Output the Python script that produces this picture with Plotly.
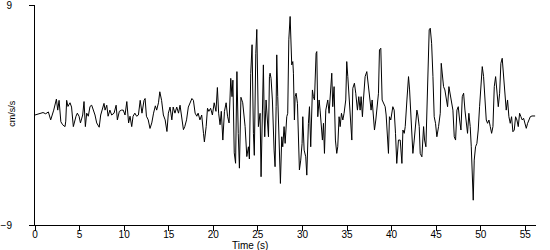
import plotly.graph_objects as go

# --- data (time in s, acceleration in cm/s/s) ---
time_a = [0, 0.3, 0.6, 0.9, 1.2, 1.5, 1.76, 1.95, 2.1, 2.4,
          2.55, 2.7, 2.9, 3.1, 3.37, 3.45, 3.55, 3.7, 3.93, 4.1,
          4.3, 4.6, 4.75, 4.94, 5.1, 5.35, 5.5, 5.65, 5.8, 5.98,
          6.17, 6.36, 6.55, 6.73, 6.92, 7.2, 7.37, 7.55, 7.74, 7.86,
          8.05, 8.2, 8.4, 8.6, 8.87, 9.1, 9.24, 9.46, 9.7, 9.9,
          10.1, 10.3, 10.5, 10.66, 10.85, 11.0, 11.2, 11.4]
accel_a = [0, 0.05, 0.1, 0.2, 0.1, 0.25, -0.4, 0.0, 0.4, 1.3,
           0.4, 1.2, -0.55, -0.8, -0.95, -0.5, 1.2, 0.7, 1.0, 0.65,
           -0.95, -0.1, 0.15, -0.1, -0.65, 0.0, 1.1, -0.95, 0.15, -0.1,
           0.7, 0.8, 0.4, 0.0, -0.65, -1.0, 0.0, 0.4, 0.95, 0.4,
           0.8, -0.1, 0.4, 0.0, 0.15, 0.8, -0.4, 0.3, 0.4, 0.4,
           0.0, 1.1, -0.65, -0.1, -0.95, -0.1, 0.15, -0.1]

time_b = [11.6, 11.8, 12.0, 12.23, 12.35, 12.5, 12.7, 12.9, 13.1, 13.3,
          13.5, 13.65, 13.85, 14.0, 14.2, 14.4, 14.6, 14.8, 14.96, 15.15,
          15.35, 15.5, 15.7, 15.9, 16.1, 16.27, 16.46, 16.65, 16.8, 17.0,
          17.2, 17.4, 17.6, 17.77, 17.96, 18.15, 18.3, 18.5, 18.7, 18.9,
          19.0, 19.2, 19.35, 19.5, 19.7, 19.9, 20.1, 20.3, 20.46, 20.6,
          20.76, 20.9, 21.07, 21.25, 21.44, 21.6, 21.77, 21.96, 22.1, 22.2,
          22.35, 22.5, 22.65, 22.8, 22.93, 23.1, 23.3, 23.57, 23.76, 23.94,
          24.05, 24.2, 24.35, 24.5, 24.6, 24.77, 24.88, 25.06]
accel_b = [0.0, 1.2, 0.15, 1.2, 1.35, -0.1, -0.4, -1.1, -0.65, 0.15,
           0.75, 0.4, 1.0, 1.9, 1.2, 0.0, -0.4, -1.35, 0.15, 0.65,
           -0.4, 0.65, 0.15, 0.65, 0.15, 0.8, -0.25, -1.2, -0.95, -0.4,
           0.65, 0.95, 1.35, 1.2, 0.15, -0.1, 0.15, -0.4, 0.0, -1.5,
           -2.2, -0.95, 0.55, 0.3, 0.55, 0.0, 1.0, 0.3, 2.25, 0.15,
           -0.8, 0.3, -2.05, 0.3, 1.0, -0.1, -0.65, 3.0, 1.5, 2.85,
           -3.1, -3.95, 3.55, -1.5, -4.35, 1.45, 1.0, -0.95, -3.4, -2.6,
           -3.6, 3.4, 5.75, -1.5, -3.3, 5.05, 7.0, -0.95]

time_c = [25.25, 25.36, 25.47, 25.62, 25.7, 25.77, 25.92, 26.07, 26.19, 26.3,
          26.37, 26.48, 26.63, 26.82, 26.93, 27.05, 27.12, 27.23, 27.42, 27.53,
          27.68, 27.79, 27.94, 28.06, 28.24, 28.35, 28.47, 28.62, 28.8, 28.92,
          28.99, 29.1, 29.18, 29.29, 29.44, 29.55, 29.66, 29.81, 29.96, 30.04,
          30.19, 30.37, 30.49, 30.67, 30.79, 30.93, 31.12, 31.23, 31.35, 31.53,
          31.61, 31.72, 31.87, 31.98, 32.13, 32.24, 32.36, 32.47, 32.62, 32.84,
          32.99, 33.1, 33.29, 33.4, 33.55, 33.7, 33.85, 33.96, 34.11, 34.23,
          34.38, 34.53, 34.67, 34.86, 34.97, 35.09, 35.27, 35.42, 35.54, 35.65,
          35.83, 35.98, 36.17, 36.32, 36.47, 36.58, 36.73, 36.84, 37.03, 37.22,
          37.41, 37.59, 37.7, 37.82, 37.97, 38.08, 38.23, 38.34, 38.53, 38.64,
          38.79, 38.94, 39.09, 39.28, 39.39, 39.54, 39.65, 39.76, 39.91, 40.14,
          40.29, 40.44, 40.58, 40.77]
accel_c = [0.14, -5.05, -0.95, 4.1, 0.4, -1.78, 1.23, -0.95, -1.78, 3.14,
           3.42, 3.0, 1.23, -2.87, -4.23, 0.68, 4.92, 1.5, -3.96, -5.6,
           -1.78, -2.6, -0.95, -2.32, -0.14, 0.14, 6.15, 8.06, 4.1, 4.37,
           3.42, -0.41, 1.5, 1.78, 0.96, -3.14, -4.5, -3.69, -2.32, -0.14,
           -2.87, -3.42, -4.92, -0.68, 0.68, -2.6, 2.05, 1.5, 1.23, 5.05,
           5.19, -0.14, 1.23, 0.4, -1.5, -2.05, -0.68, -3.14, 0.4, 1.23,
           0.14, 1.5, 3.42, 0.68, 2.32, -2.05, -3.14, -2.6, -0.14, -0.95,
           0.14, -0.41, 0.14, 1.23, 4.37, 3.14, 1.23, -0.95, -2.05, 2.19,
           2.6, 1.78, 0.4, 1.5, 0.4, 1.5, -0.14, 1.23, 3.14, 3.55,
           2.05, 1.23, 0.4, 1.23, 0.14, -1.23, -0.41, 0.4, 1.78, 5.33,
           5.46, 1.23, 0.96, 0.68, 0.0, -2.6, -3.14, -0.14, -0.41, 0.68,
           0.4, -1.5, -3.96, -2.05]

time_d = [40.97, 41.16, 41.27, 41.42, 41.53, 41.72, 41.9, 42.02, 42.17, 42.28,
          42.39, 42.54, 42.65, 42.84, 42.95, 43.1, 43.21, 43.4, 43.59, 43.7,
          43.85, 44.04, 44.22, 44.34, 44.49, 44.64, 44.78, 44.93, 45.08, 45.27,
          45.46, 45.57, 45.72, 45.83, 45.98, 46.13, 46.28, 46.43, 46.58, 46.73,
          46.88, 47.03, 47.18, 47.33, 47.48, 47.63, 47.78, 47.93, 48.08, 48.23,
          48.38, 48.52, 48.67, 48.82, 48.94, 49.05, 49.16, 49.27, 49.42, 49.57,
          49.72, 49.87, 50.02, 50.17, 50.32, 50.47, 50.62, 50.77, 50.92, 51.07,
          51.22, 51.37, 51.52, 51.67, 51.82, 51.97, 52.12, 52.26, 52.41, 52.56,
          52.71, 52.86, 53.01, 53.16, 53.31, 53.46, 53.61, 53.76, 53.91, 54.06,
          54.21, 54.36, 54.51, 54.66, 54.81, 54.96, 55.11, 55.26, 55.41, 55.56,
          55.75, 56.1]
accel_d = [-2.05, -3.96, -1.23, -1.5, -0.95, 1.23, 3.14, 2.05, -0.14, -1.78,
           -3.14, -2.05, -1.23, 0.4, 0.0, -0.95, -3.14, -3.42, -0.95, -2.05,
           -2.6, 3.69, 6.97, 7.1, 5.87, 3.14, -0.14, -0.68, -1.78, -0.95,
           0.14, 4.23, 2.6, 2.32, 2.05, 1.5, 0.68, 2.32, 1.78, 1.23,
           0.4, -1.78, -2.05, 0.4, 0.68, -0.41, -1.23, 1.5, 1.78, 0.4,
           -0.95, -1.5, 0.14, -0.95, -2.6, -5.05, -6.97, -3.69, -2.6, -2.32,
           -1.23, 0.68, 2.32, 3.96, 3.14, 0.68, -0.41, -0.68, -0.41, -0.95,
           -1.5, -0.95, 2.32, 3.14, 2.05, 0.68, 1.78, 4.23, 4.64, 3.14,
           1.23, 0.4, 1.23, -0.14, -0.68, -0.14, -1.37, -1.23, -0.14, -0.41,
           -0.95, 0.14, -0.14, -0.41, -0.27, -0.68, -1.09, -0.68, -0.41, -0.14,
           -0.08, -0.08]

x_ticks = [0, 5, 10, 15, 20, 25, 30, 35, 40, 45, 50, 55]
y_ticks = [-9, 9]
x_title = "Time (s)"
y_title = "cm/s/s"

time_s = time_a + time_b + time_c + time_d
accel = accel_a + accel_b + accel_c + accel_d

FONT = "Liberation Sans, Arial, sans-serif"

fig = go.Figure()
fig.add_trace(go.Scatter(x=time_s, y=accel, mode="lines",
                         line=dict(color="black", width=1),
                         hoverinfo="skip", showlegend=False))

fig.update_layout(
    width=550, height=250,
    margin=dict(l=35, r=14, t=5, b=25, autoexpand=False),
    paper_bgcolor="white", plot_bgcolor="white",
    font=dict(family=FONT, size=10, color="black"),
    xaxis=dict(range=[0, 56.2], tickvals=x_ticks, ticks="outside", ticklen=5,
               tickcolor="black", showline=True, linecolor="black", linewidth=1,
               showgrid=False, zeroline=False, ticklabelstandoff=-5,
               automargin=False,
               tickfont=dict(family=FONT, size=10, color="black")),
    yaxis=dict(range=[-9, 9], tickvals=y_ticks, ticks="outside", ticklen=5,
               tickcolor="black", showline=True, linecolor="black", linewidth=1,
               showgrid=False, zeroline=False, ticklabelstandoff=15,
               ticklabeloverflow="allow", automargin=False,
               tickfont=dict(family=FONT, size=10, color="black")),
    annotations=[
        dict(text=x_title, xref="paper", yref="paper", x=0.43, y=-0.091,
             xanchor="center", yanchor="middle", showarrow=False,
             font=dict(family=FONT, size=10, color="black")),
        dict(text=y_title, xref="paper", yref="paper", x=-0.046, y=0.505,
             xanchor="center", yanchor="middle", showarrow=False, textangle=-90,
             font=dict(family=FONT, size=9, color="black")),
    ],
)

fig.write_html("out.html")
